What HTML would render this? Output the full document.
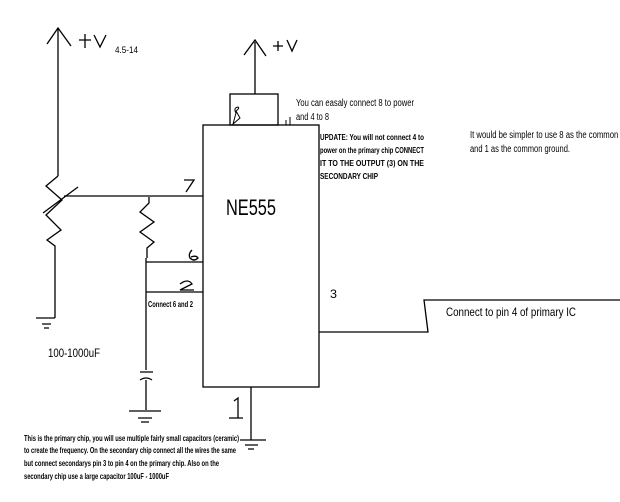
<!DOCTYPE html>
<html><head><style>body{margin:0;background:#fff}svg{display:block}text{font-family:"Liberation Sans",sans-serif;fill:#000}</style></head><body>
<svg width="620" height="502" viewBox="0 0 620 502" xmlns="http://www.w3.org/2000/svg">
<g stroke="#000" stroke-width="1.3" fill="none">
<path d="M58 28V176"/><path d="M47 44L58 28L71 46"/>
<path d="M79 40H91M85 34V48M94 35L100 47L106 35"/>
<path d="M58 176L46 186L62 200L46 215L61 230L47 240L55 246V318"/>
<path d="M43 213L78 187"/>
<path d="M64 196H203"/>
<path d="M36 318H55M42 324H51M44 328H49"/>
<path d="M149 197V203L140 212L154 222L140 232L154 242L147 248V258"/>
<path d="M146 258V370"/>
<path d="M146 262H203M146 292H203"/>
<path d="M140 372H153M140 380Q146 376 152 380M146 380V410M129 411H161M138 418H152M141 422H149"/>
<rect x="203" y="125" width="116" height="262"/>
<rect x="230" y="94" width="48" height="31"/>
<path d="M255 94V42M244 55L255 40L266 56"/>
<path d="M273 46H283M278 41V51M287 40L292 51L297 40"/>
<path d="M286 120V125M286 125H293M290 117V125" stroke-width="1"/>
<path d="M238 107Q233 108 236 113L233 124L240 118L236 111Q240 108 238 107" stroke-width="1"/>
<path d="M184 180H194L186 192"/>
<path d="M192 250Q188 254 190 258Q194 262 198 258Q196 255 191 257"/>
<path d="M180 284Q188 278 192 284L180 290H194"/>
<path d="M319 332H428L424 300H620"/>
<path d="M251 387V440M240 440H266M245 445H258M248 449H254"/>
<path d="M234 401L238 398V418M229 418H243"/>
</g>
<text x="330" y="298" font-size="12" textLength="7" lengthAdjust="spacingAndGlyphs">3</text>
<text x="226" y="215" font-size="22" textLength="50" lengthAdjust="spacingAndGlyphs">NE555</text>
<text x="115" y="53" font-size="9" textLength="23" lengthAdjust="spacingAndGlyphs">4.5-14</text>
<text x="296" y="106" font-size="10" textLength="118" lengthAdjust="spacingAndGlyphs">You can easaly connect 8 to power</text>
<text x="296" y="120" font-size="10" textLength="33" lengthAdjust="spacingAndGlyphs">and 4 to 8</text>
<g font-size="8" font-weight="bold">
<text x="320" y="140" textLength="104" lengthAdjust="spacingAndGlyphs">UPDATE: You will not connect 4 to</text>
<text x="320" y="153" textLength="104" lengthAdjust="spacingAndGlyphs">power on the primary chip CONNECT</text>
<text x="320" y="166" textLength="104" lengthAdjust="spacingAndGlyphs">IT TO THE OUTPUT (3) ON THE</text>
<text x="320" y="179" textLength="58" lengthAdjust="spacingAndGlyphs">SECONDARY CHIP</text>
<text x="148" y="307" textLength="45" lengthAdjust="spacingAndGlyphs">Connect 6 and 2</text>
<text x="24" y="441" textLength="215" lengthAdjust="spacingAndGlyphs">This is the primary chip, you will use multiple fairly small capacitors (ceramic)</text>
<text x="24" y="453" textLength="212" lengthAdjust="spacingAndGlyphs">to create the frequency. On the secondary chip connect all the wires the same</text>
<text x="24" y="466" textLength="195" lengthAdjust="spacingAndGlyphs">but connect secondarys pin 3 to pin 4 on the primary chip. Also on the</text>
<text x="24" y="479" textLength="145" lengthAdjust="spacingAndGlyphs">secondary chip use a large capacitor 100uF - 1000uF</text>
</g>
<text x="470" y="138" font-size="10" textLength="160" lengthAdjust="spacingAndGlyphs">It would be simpler to use 8 as the common +V</text>
<text x="470" y="152" font-size="10" textLength="100" lengthAdjust="spacingAndGlyphs">and 1 as the common ground.</text>
<text x="446" y="316" font-size="12" textLength="130" lengthAdjust="spacingAndGlyphs">Connect to pin 4 of primary IC</text>
<text x="48" y="357" font-size="12" textLength="52" lengthAdjust="spacingAndGlyphs">100-1000uF</text>
</svg>
</body></html>
